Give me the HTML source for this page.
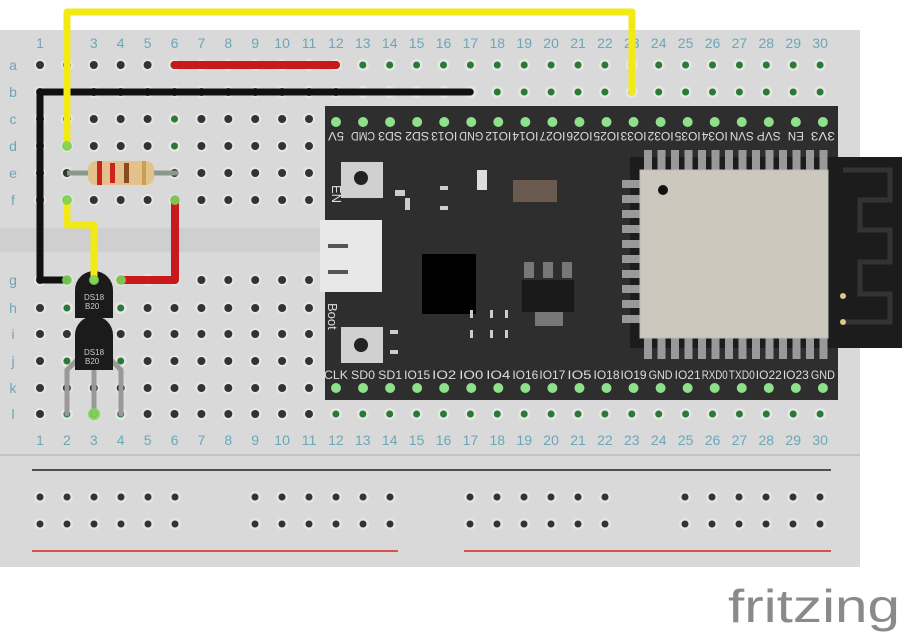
<!DOCTYPE html>
<html><head><meta charset="utf-8"><style>
html,body{margin:0;padding:0;background:#fff;width:903px;height:636px;overflow:hidden}
svg{display:block}
text{font-family:"Liberation Sans",sans-serif}
</style></head><body>
<svg id="s" width="903" height="636" viewBox="0 0 903 636" xmlns="http://www.w3.org/2000/svg">
<rect x="0" y="30" width="860" height="537" fill="#d9d9d9"/>
<rect x="0" y="228" width="860" height="24" fill="#cfcfcf"/>
<line x1="0" y1="455" x2="860" y2="455" stroke="#c4c4c4" stroke-width="2"/>
<line x1="32" y1="470" x2="831" y2="470" stroke="#222" stroke-width="1.5"/>
<line x1="32" y1="551" x2="398" y2="551" stroke="#d22" stroke-width="1.5"/>
<line x1="464" y1="551" x2="831" y2="551" stroke="#d22" stroke-width="1.5"/>
<g id="holes"></g>
<g id="labels" fill="#6aa7b8" font-size="14"></g>
<rect x="325" y="106" width="513" height="294" fill="#2e2e2e"/>
<rect x="630" y="157" width="272" height="191" fill="#1c1c1c"/>
<path d="M843 170 H890 V200 H860 V230 H890 V262 H860 V294 H890 V322 H845" fill="none" stroke="#333" stroke-width="5"/>
<circle cx="843" cy="296" r="3" fill="#d8c88a"/><circle cx="843" cy="322" r="3" fill="#d8c88a"/>
<g id="mod"></g>
<rect x="640" y="170" width="188" height="168" fill="#cdc8bd" stroke="#bbb"/>
<circle cx="663" cy="190" r="5" fill="#111"/>
<rect x="341" y="162" width="42" height="36" fill="#d0d0d0"/><circle cx="361" cy="178" r="7" fill="#222"/>
<rect x="341" y="327" width="42" height="36" fill="#d0d0d0"/><circle cx="361" cy="345" r="7" fill="#222"/>
<rect x="320" y="220" width="62" height="72" fill="#e8e8e8"/>
<rect x="328" y="244" width="20" height="4" fill="#555"/><rect x="328" y="270" width="20" height="4" fill="#555"/>
<rect x="422" y="254" width="54" height="60" fill="#000"/>
<rect x="522" y="280" width="52" height="32" fill="#1a1a1a"/>
<rect x="524" y="262" width="10" height="16" fill="#777"/><rect x="543" y="262" width="10" height="16" fill="#777"/><rect x="562" y="262" width="10" height="16" fill="#777"/>
<rect x="535" y="312" width="28" height="14" fill="#777"/>
<rect x="513" y="180" width="44" height="22" fill="#6a5a50"/>
<rect x="477" y="170" width="10" height="20" fill="#ddd"/>
<g fill="#ccc"><rect x="395" y="190" width="10" height="6"/><rect x="405" y="198" width="5" height="12"/><rect x="440" y="186" width="8" height="4"/><rect x="440" y="206" width="8" height="4"/><rect x="390" y="330" width="8" height="4"/><rect x="390" y="350" width="8" height="4"/><rect x="490" y="310" width="3" height="8"/><rect x="505" y="310" width="3" height="8"/><rect x="490" y="330" width="3" height="8"/><rect x="505" y="330" width="3" height="8"/><rect x="470" y="330" width="3" height="8"/><rect x="470" y="310" width="3" height="8"/></g>
<text x="332" y="185" fill="#ddd" font-size="13" transform="rotate(90 332 185)">EN</text>
<text x="328" y="303" fill="#ddd" font-size="13" transform="rotate(90 328 303)">Boot</text>
<g id="bpins"></g>
<g stroke-linecap="round" stroke-linejoin="round" fill="none">
<polyline points="470,92 40,92 40,280 67,280" stroke="#111" stroke-width="7"/>
<polyline points="175,65 336,65" stroke="#c81a1a" stroke-width="8"/>
<polyline points="175,200 175,280 121,280" stroke="#c81a1a" stroke-width="8"/>
</g>
<line x1="67" y1="173" x2="178" y2="173" stroke="#8a9a8a" stroke-width="5"/>
<rect x="88" y="161" width="66" height="24" rx="8" fill="#e2c18a"/>
<rect x="97" y="161" width="5" height="24" fill="#c22"/><rect x="110" y="163" width="5" height="20" fill="#c22"/><rect x="124" y="163" width="5" height="20" fill="#8a4a20"/><rect x="142" y="161" width="4" height="24" fill="#c9a050"/>
<g stroke="#999" stroke-width="5" fill="none" stroke-linecap="round">
<polyline points="82,355 67,370 67,414"/><polyline points="94,355 94,414"/><polyline points="106,355 121,370 121,414"/>
</g>
<path d="M75 350 V335 a19 19 0 0 1 38 0 V370 H75 Z" fill="#1b1b1b"/>
<text x="84" y="355" fill="#ccc" font-size="8">DS18</text><text x="85" y="364" fill="#ccc" font-size="8">B20</text>
<path d="M75 305 V290 a19 19 0 0 1 38 0 V318 H75 Z" fill="#1b1b1b"/>
<text x="84" y="300" fill="#ccc" font-size="8">DS18</text><text x="85" y="309" fill="#ccc" font-size="8">B20</text>
<g stroke-linecap="round" stroke-linejoin="round" fill="none">
<polyline points="67,146 67,12 632,12 632,92" stroke="#f2ea16" stroke-width="7"/>
<polyline points="67,200 67,225 94,225 94,280" stroke="#f2ea16" stroke-width="7"/>
</g>
<g fill="#7ed35a" opacity="0.9">
<circle cx="67" cy="146" r="5"/><circle cx="67" cy="200" r="5"/><circle cx="94" cy="280" r="5"/><circle cx="67" cy="280" r="5"/><circle cx="121" cy="280" r="5"/><circle cx="175" cy="200" r="5"/><circle cx="94" cy="414" r="6"/>
</g>
<text x="728" y="622" fill="#8a8a8a" font-size="46" textLength="172" lengthAdjust="spacingAndGlyphs">fritzing</text>
</svg>
<script>
(function(){
const NS="http://www.w3.org/2000/svg";
function el(p,t,a,txt){const e=document.createElementNS(NS,t);for(const k in a)e.setAttribute(k,a[k]);if(txt!=null)e.textContent=txt;p.appendChild(e);return e;}
const H=document.getElementById('holes'),L=document.getElementById('labels');
const cx=c=>40+(c-1)*26.9;
const rows={a:65,b:92,c:119,d:146,e:173,f:200,g:280,h:308,i:334,j:361,k:388,l:414};
for(let c=1;c<=30;c++){
 el(L,'text',{x:cx(c),y:48,'text-anchor':'middle'},c);
 el(L,'text',{x:cx(c),y:445,'text-anchor':'middle'},c);
 for(const r in rows){
  const x=cx(c),y=rows[r];
  el(H,'circle',{cx:x,cy:y,r:6,fill:'#e6e6e6'});
  const green=(c>=13&&(r=='a'||r=='b'))||(c>=12&&r=='l')||(c==6&&(r=='c'||r=='d'))||((c==2||c==4)&&(r=='h'||r=='j'||r=='l'));
  el(H,'circle',{cx:x,cy:y,r:green?3.5:4,fill:green?'#2a7a35':'#333'});
 }
}
for(const r in rows) el(L,'text',{x:13,y:rows[r]+5,'text-anchor':'middle'},r);
const px=[40,67,94,121,148,175];
[0,215,430,645].forEach(o=>{for(const x of px){for(const y of [497,524]){el(H,'circle',{cx:x+o,cy:y,r:6,fill:'#e4e4e4'});el(H,'circle',{cx:x+o,cy:y,r:3.5,fill:'#333'});}}});
const B=document.getElementById('bpins');
const topL=["5V","CMD","SD3","SD2","IO13","GND","IO12","IO14","IO27","IO26","IO25","IO33","IO32","IO35","IO34","SVN","SVP","EN","3V3"];
const botL=["CLK","SD0","SD1","IO15","IO2","IO0","IO4","IO16","IO17","IO5","IO18","IO19","GND","IO21","RXD0","TXD0","IO22","IO23","GND"];
for(let i=0;i<19;i++){const x=336+i*27.05;
 el(B,'circle',{cx:x,cy:122,r:5,fill:'#8fe08a'});el(B,'circle',{cx:x,cy:388,r:5,fill:'#8fe08a'});
 const w=topL[i].length>=4?26:topL[i].length*8;
 el(B,'text',{x:x,y:132,'text-anchor':'middle',fill:'#ddd','font-size':12,transform:'rotate(180 '+x+' 132)',textLength:w,lengthAdjust:'spacingAndGlyphs'},topL[i]);
 const w2=botL[i].length>=4?26:botL[i].length*8;
 el(B,'text',{x:x,y:379,'text-anchor':'middle',fill:'#ddd','font-size':12,textLength:w2,lengthAdjust:'spacingAndGlyphs'},botL[i]);
}
const M=document.getElementById('mod');
for(let i=0;i<14;i++){const x=644+i*13.5;el(M,'rect',{x:x,y:150,width:8,height:22,fill:'#999'});el(M,'rect',{x:x,y:337,width:8,height:22,fill:'#999'});}
for(let i=0;i<10;i++){el(M,'rect',{x:622,y:180+i*15,width:18,height:8,fill:'#999'});}
})();
</script>
</body></html>
